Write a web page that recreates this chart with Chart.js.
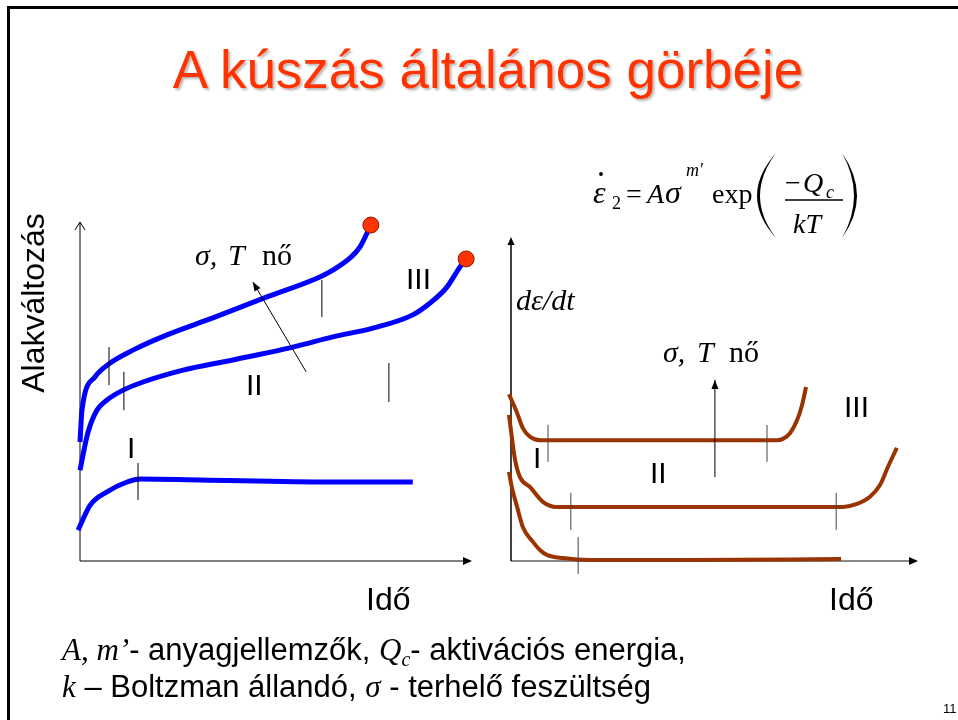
<!DOCTYPE html>
<html lang="hu">
<head>
<meta charset="utf-8">
<title>A kúszás általános görbéje</title>
<script src="https://cdn.jsdelivr.net/npm/chart.js@4.4.1/dist/chart.umd.min.js"></script>
<style>
  html, body { margin: 0; padding: 0; background: #fff; }
  #page { position: relative; width: 958px; height: 720px; overflow: hidden; background: #fff; }
  canvas, svg { position: absolute; left: 0; top: 0; }
  svg { pointer-events: none; }
  .sans { font-family: "Liberation Sans", Arial, sans-serif; }
  .serif { font-family: "Liberation Serif", "Times New Roman", serif; }
</style>
</head>
<body>
<div id="page">
  <canvas id="strainChart" width="958" height="720"></canvas>
  <canvas id="rateChart" width="958" height="720"></canvas>
  <svg width="958" height="720" viewBox="0 0 958 720" xmlns="http://www.w3.org/2000/svg">
    <defs>
      <filter id="titleShadow" x="-5%" y="-20%" width="110%" height="150%">
        <feDropShadow dx="2" dy="2" stdDeviation="1" flood-color="#000" flood-opacity="0.28"/>
      </filter>
    </defs>

    <!-- slide frame -->
    <path d="M8.5,720 L8.5,7.5 L958,7.5" fill="none" stroke="#000" stroke-width="3"/>

    <!-- title -->
    <text x="488" y="88" text-anchor="middle" class="sans" font-size="53" fill="#FF3300" filter="url(#titleShadow)">A kúszás általános görbéje</text>

    <!-- creep-rate formula -->
    <g class="serif" fill="#000">
      <text x="593" y="203" font-size="32" font-style="italic">ε</text>
      <circle cx="601" cy="174" r="1.9" fill="#000"/>
      <text x="612" y="209" font-size="18">2</text>
      <text x="626" y="203" font-size="28">=</text>
      <text x="647" y="203" font-size="28" font-style="italic">A</text>
      <text x="665" y="203" font-size="32" font-style="italic">σ</text>
      <text x="686" y="176" font-size="18" font-style="italic">m′</text>
      <text x="712" y="203" font-size="28">exp</text>
      <path d="M776,153 Q738,196 776,238 Q744,196 776,153 Z" fill="#000"/>
      <text x="785" y="192" font-size="28">−</text>
      <text x="803" y="192" font-size="28" font-style="italic">Q</text>
      <text x="826" y="198" font-size="18" font-style="italic">c</text>
      <line x1="785" y1="200" x2="843" y2="200" stroke="#000" stroke-width="1.4"/>
      <text x="793" y="233" font-size="28" font-style="italic">kT</text>
      <path d="M842,153 Q872,196 842,238 Q866,196 842,153 Z" fill="#000"/>
    </g>

    <!-- strain–time diagram labels -->
    <text transform="translate(44,303) rotate(-90)" text-anchor="middle" class="sans" font-size="32">Alakváltozás</text>
    <text x="366" y="610" class="sans" font-size="32">Idő</text>
    <g class="serif" font-size="30">
      <text x="195" y="265" font-style="italic">σ,</text>
      <text x="228" y="265" font-style="italic">T</text>
      <text x="262" y="265">nő</text>
    </g>
    <g class="sans" font-size="30">
      <text x="406" y="289">III</text>
      <text x="246" y="395">II</text>
      <text x="127" y="458">I</text>
    </g>

    <!-- creep-rate diagram labels -->
    <text x="829" y="610" class="sans" font-size="32">Idő</text>
    <text x="516" y="310" class="serif" font-size="30" font-style="italic">dε/dt</text>
    <g class="serif" font-size="30">
      <text x="663" y="362" font-style="italic">σ,</text>
      <text x="697" y="362" font-style="italic">T</text>
      <text x="729" y="362">nő</text>
    </g>
    <g class="sans" font-size="30">
      <text x="844" y="417">III</text>
      <text x="650" y="483">II</text>
      <text x="533" y="468">I</text>
    </g>

    <!-- notation -->
    <text x="62" y="660" class="sans" font-size="31"><tspan class="serif" font-style="italic">A, m’</tspan>- anyagjellemzők, <tspan class="serif" font-style="italic">Q</tspan><tspan class="serif" font-style="italic" font-size="20" dy="6">c</tspan><tspan dy="-6">- aktivációs energia,</tspan></text>
    <text x="62" y="697" class="sans" font-size="31"><tspan class="serif" font-style="italic">k</tspan> – Boltzman állandó, <tspan class="serif" font-style="italic">σ</tspan> - terhelő feszültség</text>

    <text x="943" y="713" class="sans" font-size="13">11</text>
  </svg>
</div>

<script>
// ---- Alakváltozás – idő (arbitrary units, time 0–100, strain 0–100) ----
const strainHighTime   = [0, 0.5, 3.8, 7.7, 13.5, 22.2, 33.9, 47.7, 61.2, 64.5, 68.9, 71.4, 74.2];
const strainHighValue  = [35.1, 44.5, 54.3, 58.4, 62.2, 66.7, 71.7, 77.9, 83.8, 85.8, 89.4, 92.6, 99.1];
const strainMidTime    = [0, 2.0, 4.3, 6.9, 11.0, 16.1, 26.3, 39.0, 54.3, 64.5, 74.7, 84.9, 89.3, 93.6, 96.9, 98.5];
const strainMidValue   = [26.8, 37.8, 44.5, 47.5, 50.4, 52.8, 56.3, 59.3, 63.1, 66.1, 68.7, 72.6, 76.1, 80.8, 86.7, 89.1];
const strainLowTime    = [-0.5, 2.6, 6.9, 12.0, 15.3, 30.6, 64.5, 84.9];
const strainLowValue   = [9.1, 16.5, 20.4, 23.3, 24.2, 23.9, 23.3, 23.3];
const ruptureTime      = [74.2, 98.5];
const ruptureValue     = [99.1, 89.1];
// stage boundaries (I|II, II|III) as short vertical marks
const strainMarkTime   = [7.4, 11.2, 14.8, 61.7, 78.8];
const strainMarkLow    = [51.9, 44.5, 18.0, 72.0, 46.9];
const strainMarkHigh   = [63.1, 55.8, 28.9, 82.9, 58.4];
// "σ, T nő" direction arrow
const strainArrowTime  = [57.7, 44.1];
const strainArrowValue = [55.8, 82.3];

// ---- dε/dt – idő (arbitrary units) ----
const rateHighTime   = [-0.5, 1.5, 2.9, 4.7, 7.1, 65.4, 66.8, 68.6, 70.3, 71.5, 72.5];
const rateHighValue  = [51.5, 45.7, 41.0, 38.3, 37.3, 37.3, 37.7, 39.5, 43.5, 48.1, 53.7];
const rateMidTime    = [-0.5, 0.2, 1.0, 2.2, 4.7, 7.9, 11.3, 81.6, 85.0, 88.2, 90.7, 92.6, 94.8];
const rateMidValue   = [45.1, 38.3, 31.2, 25.9, 22.8, 18.2, 16.7, 16.7, 17.6, 19.8, 23.5, 29.0, 34.9];
const rateLowTime    = [-0.5, 0.2, 1.5, 2.9, 5.4, 7.1, 8.8, 12.8, 19.4, 44.0, 81.1];
const rateLowValue   = [27.5, 22.8, 16.7, 10.5, 5.9, 3.4, 1.9, 0.9, 0.3, 0.3, 0.6];
const rateMarkTime   = [9.1, 62.9, 14.7, 79.9, 16.5];
const rateMarkLow    = [30.6, 30.6, 9.6, 9.6, -4.0];
const rateMarkHigh   = [42.0, 42.0, 21.0, 21.0, 7.4];
const rateArrowTime  = [50.1, 50.1];
const rateArrowValue = [25.9, 55.9];

const BLUE = '#0000FF';
const BROWN = '#993300';

const zip = (xs, ys) => xs.map((x, i) => ({ x, y: ys[i] }));

function curve(xs, ys, color, width) {
  return {
    data: zip(xs, ys), showLine: true, borderColor: color, borderWidth: width,
    pointRadius: 0, tension: 0.4, cubicInterpolationMode: 'monotone',
    capBezierPoints: false, clip: false, order: 3
  };
}

function stageMarks(ts, lows, highs, color) {
  return ts.map((t, i) => ({
    data: [{ x: t, y: lows[i] }, { x: t, y: highs[i] }], showLine: true,
    borderColor: color, borderWidth: 1, pointRadius: 0, tension: 0, clip: false, order: 1
  }));
}

function arrowLine(xs, ys) {
  return {
    data: zip(xs, ys), showLine: true, borderColor: '#000', borderWidth: 1,
    pointRadius: 0, tension: 0, clip: false, order: 0, arrowHead: { len: 9, half: 3.5 }
  };
}

function drawHead(ctx, fx, fy, tx, ty, len, half, filled, color, lw) {
  const d = Math.hypot(tx - fx, ty - fy);
  const ux = (tx - fx) / d, uy = (ty - fy) / d;
  const bx = tx - ux * len, by = ty - uy * len;
  const nx = -uy, ny = ux;
  ctx.save();
  ctx.beginPath();
  ctx.moveTo(bx + nx * half, by + ny * half);
  ctx.lineTo(tx, ty);
  ctx.lineTo(bx - nx * half, by - ny * half);
  if (filled) {
    ctx.closePath();
    ctx.fillStyle = color;
    ctx.fill();
  } else {
    ctx.strokeStyle = color;
    ctx.lineWidth = lw;
    ctx.stroke();
  }
  ctx.restore();
}

// axes with arrowheads, plus heads on datasets flagged with arrowHead
const arrowAxes = {
  id: 'arrowAxes',
  beforeDatasetsDraw(chart, args, o) {
    const { ctx, scales: { x, y } } = chart;
    const x0 = x.getPixelForValue(0), y0 = y.getPixelForValue(0);
    const xEnd = x.getPixelForValue(x.max), yTop = y.getPixelForValue(y.max);
    ctx.save();
    // time axis
    ctx.beginPath();
    ctx.strokeStyle = o.xColor;
    ctx.lineWidth = o.xWidth;
    ctx.moveTo(x0, y0);
    ctx.lineTo(xEnd - 4, y0);
    ctx.stroke();
    drawHead(ctx, x0, y0, xEnd, y0, 9, 4, true, '#000', 1);
    // value axis
    ctx.beginPath();
    ctx.strokeStyle = o.yColor;
    ctx.lineWidth = o.yWidth;
    ctx.moveTo(x0, y0);
    ctx.lineTo(x0, o.yOpen ? yTop : yTop + 4);
    ctx.stroke();
    drawHead(ctx, x0, y0, x0, yTop, 8, o.yOpen ? 5 : 3.5, !o.yOpen, '#000', 1);
    ctx.restore();
  },
  afterDatasetsDraw(chart) {
    const { ctx } = chart;
    chart.data.datasets.forEach((ds, i) => {
      if (!ds.arrowHead) return;
      const pts = chart.getDatasetMeta(i).data;
      const a = pts[pts.length - 2], b = pts[pts.length - 1];
      drawHead(ctx, a.x, a.y, b.x, b.y, ds.arrowHead.len, ds.arrowHead.half, true, '#000', 1);
    });
  }
};

function baseOptions(area, axisOpts) {
  return {
    responsive: false,
    animation: false,
    events: [],
    devicePixelRatio: 1,
    layout: { padding: area },
    scales: {
      x: { type: 'linear', min: 0, max: 100, display: false },
      y: { type: 'linear', min: 0, max: 100, display: false }
    },
    plugins: { legend: { display: false }, tooltip: { enabled: false }, arrowAxes: axisOpts }
  };
}

new Chart(document.getElementById('strainChart'), {
  type: 'scatter',
  data: {
    datasets: [
      arrowLine(strainArrowTime, strainArrowValue),
      ...stageMarks(strainMarkTime, strainMarkLow, strainMarkHigh, '#000'),
      {
        data: zip(ruptureTime, ruptureValue), showLine: false, pointRadius: 8,
        pointBackgroundColor: '#FF3300', pointBorderColor: '#8A1C00', pointBorderWidth: 1,
        clip: false, order: 2
      },
      curve(strainHighTime, strainHighValue, BLUE, 5),
      curve(strainMidTime, strainMidValue, BLUE, 5),
      curve(strainLowTime, strainLowValue, BLUE, 5)
    ]
  },
  options: baseOptions({ left: 80, top: 222, right: 486, bottom: 159 },
    { xColor: '#555', xWidth: 1.5, yColor: '#000', yWidth: 1, yOpen: true }),
  plugins: [arrowAxes]
});

new Chart(document.getElementById('rateChart'), {
  type: 'scatter',
  data: {
    datasets: [
      arrowLine(rateArrowTime, rateArrowValue),
      ...stageMarks(rateMarkTime, rateMarkLow, rateMarkHigh, '#444'),
      curve(rateHighTime, rateHighValue, BROWN, 4),
      curve(rateMidTime, rateMidValue, BROWN, 4),
      curve(rateLowTime, rateLowValue, BROWN, 4)
    ]
  },
  options: baseOptions({ left: 511, top: 237, right: 40, bottom: 159 },
    { xColor: '#888', xWidth: 2, yColor: '#000', yWidth: 1.5, yOpen: false }),
  plugins: [arrowAxes]
});
</script>
</body>
</html>
